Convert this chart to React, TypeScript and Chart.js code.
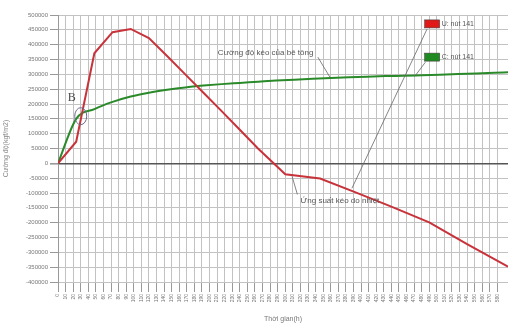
import React, { useEffect, useRef } from "react";
import { Chart, registerables } from "chart.js";

Chart.register(...registerables);

// ---- Data ----
const stressTimes = [0, 24, 48, 72, 96, 120, 144, 168, 192, 216, 240, 264, 300, 346, 392, 440, 490, 540, 594];
const stressValues = [0, 73000, 371000, 442000, 453000, 422000, 362000, 300000, 238000, 176000, 113000, 50000, -37000, -51000, -97000, -146000, -199000, -272000, -348000];

const strengthTimes = [0, 24, 48, 72, 96, 120, 144, 168, 192, 216, 240, 264, 288, 312, 336, 360, 384, 408, 432, 456, 480, 504, 528, 552, 576, 594];
const strengthValues = [0, 150000, 183000, 207000, 225000, 238000, 248000, 256000, 262000, 267000, 271000, 275000, 279000, 282000, 285000, 288000, 290000, 292000, 294000, 295000, 297000, 299000, 301000, 303000, 305000, 307000];

const seriesNames = ["U: nút 141", "C: nút 141"];
const yTitle = "Cường độ(kgf/m2)";
const xTitle = "Thời gian(h)";
const yMin = -400000;
const yMax = 500000;
const yStep = 50000;
const xMin = 0;
const xMax = 594;
const xStep = 10;

const noteStrength = "Cường độ kéo của bê tông";
const noteStress = "Ứng suất kéo do nhiệt";
const noteB = "B";

const RED = "#c8323a";
const GREEN = "#2a8a2a";
const GRID = "#c2c2c2";
const FONT = "'Liberation Sans', Arial, sans-serif";

const annotationPlugin = {
  id: "notes",
  afterDatasetsDraw(chart: any) {
    const ctx = chart.ctx;
    const xs = chart.scales.x;
    const ys = chart.scales.y;
    const px = (t: number) => xs.getPixelForValue(t);
    const py = (v: number) => ys.getPixelForValue(v);
    ctx.save();

    const line = (t1: number, v1: number, t2: number, v2: number) => {
      ctx.beginPath();
      ctx.moveTo(px(t1), py(v1));
      ctx.lineTo(px(t2), py(v2));
      ctx.stroke();
    };

    ctx.strokeStyle = "#666";
    ctx.lineWidth = 0.8;
    // leader lines
    line(487, 452000, 388, -84000);
    line(485, 341000, 472, 297000);
    line(343, 358000, 359, 290000);
    line(316, -105000, 309, -44000);

    // legend boxes
    const box = (t: number, v: number, color: string, label: string) => {
      const x = px(t);
      const y = py(v);
      ctx.fillStyle = color;
      ctx.fillRect(x, y - 4, 15, 8);
      ctx.strokeStyle = "#444";
      ctx.lineWidth = 0.6;
      ctx.strokeRect(x, y - 4, 15, 8);
      ctx.fillStyle = "#555";
      ctx.font = `7px ${FONT}`;
      ctx.textAlign = "left";
      ctx.textBaseline = "middle";
      ctx.fillText(label, x + 17, y);
    };
    box(484, 470000, "#e01818", seriesNames[0]);
    box(484, 358000, "#1f8a1f", seriesNames[1]);

    // text notes
    ctx.fillStyle = "#555";
    ctx.font = `8px ${FONT}`;
    ctx.textAlign = "left";
    ctx.textBaseline = "middle";
    ctx.fillText(noteStrength, px(211), py(372000));
    ctx.fillText(noteStress, px(320), py(-125000));

    ctx.font = `12px 'Liberation Serif', serif`;
    ctx.fillStyle = "#4a4a4a";
    ctx.fillText(noteB, px(13), py(222000));

    // ellipse
    ctx.strokeStyle = "#6a6a8c";
    ctx.lineWidth = 1;
    ctx.beginPath();
    ctx.ellipse(px(30), py(159000), 6, 8.5, 0, 0, Math.PI * 2);
    ctx.stroke();

    ctx.restore();
  },
};

export default function App() {
  const ref = useRef<HTMLCanvasElement | null>(null);

  useEffect(() => {
    if (!ref.current) return;
    const chart = new Chart(ref.current, {
      type: "line",
      data: {
        datasets: [
          {
            label: seriesNames[0],
            data: stressTimes.map((t, i) => ({ x: t, y: stressValues[i] })),
            borderColor: RED,
            borderWidth: 2,
            pointRadius: 0,
            fill: false,
            tension: 0,
          },
          {
            label: seriesNames[1],
            data: strengthTimes.map((t, i) => ({ x: t, y: strengthValues[i] })),
            borderColor: GREEN,
            borderWidth: 2,
            pointRadius: 0,
            fill: false,
            cubicInterpolationMode: "monotone",
          },
        ],
      },
      options: {
        animation: false,
        responsive: true,
        maintainAspectRatio: false,
        layout: { padding: { top: 15, right: 0, left: 0, bottom: 0 } },
        plugins: {
          legend: { display: false },
          tooltip: { enabled: false },
        },
        scales: {
          x: {
            type: "linear",
            min: xMin,
            max: xMax,
            afterBuildTicks: (scale: any) => {
              scale.ticks = scale.ticks.filter((t: any) => t.value % xStep === 0);
            },
            afterFit: (scale: any) => {
              scale.height = 44;
              scale.paddingLeft = 0;
              scale.paddingRight = 0;
            },
            ticks: {
              stepSize: xStep,
              autoSkip: false,
              maxRotation: 90,
              minRotation: 90,
              padding: 2,
              color: "#777",
              font: { size: 5, family: FONT },
              callback: (v: any) => String(v),
            },
            grid: {
              color: GRID,
              lineWidth: 1,
              tickLength: 10,
              tickColor: "#999",
            },
            border: { display: true, color: GRID },
            title: {
              display: true,
              text: xTitle,
              color: "#777",
              font: { size: 7, family: FONT },
              padding: { top: 0, bottom: 3 },
            },
          },
          y: {
            type: "linear",
            min: yMin,
            max: yMax,
            afterFit: (scale: any) => {
              scale.width = 58;
              scale.paddingTop = 0;
              scale.paddingBottom = 0;
            },
            ticks: {
              stepSize: yStep,
              padding: 2,
              color: "#777",
              font: { size: 6, family: FONT },
              callback: (v: any) => String(v),
            },
            grid: {
              color: (c: any) => (c.tick && c.tick.value === 0 ? "#555" : GRID),
              lineWidth: (c: any) => (c.tick && c.tick.value === 0 ? 1.6 : 1),
              tickLength: 8,
              tickColor: "#999",
            },
            border: { display: true, color: "#999" },
            title: {
              display: true,
              text: yTitle,
              color: "#888",
              font: { size: 7, family: FONT },
              padding: { top: 2, bottom: 2 },
            },
          },
        },
      },
      plugins: [annotationPlugin],
    } as any);
    return () => chart.destroy();
  }, []);

  return (
    <div style={{ position: "fixed", left: 0, top: 0, width: 508, height: 326, background: "#fff" }}>
      <canvas ref={ref} />
    </div>
  );
}
